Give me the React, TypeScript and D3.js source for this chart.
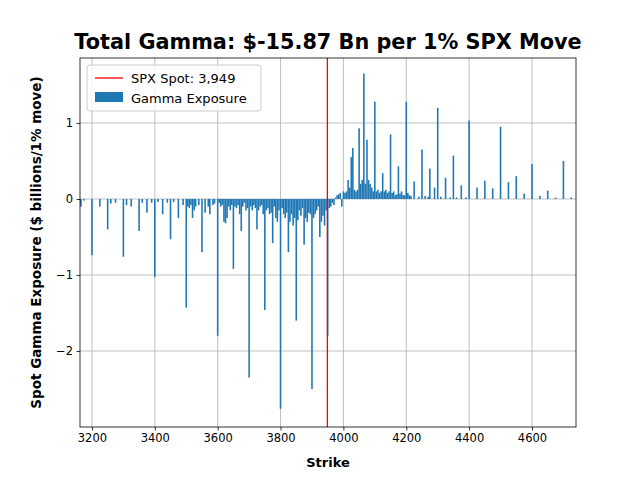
import { useEffect, useRef } from 'react';
import * as d3 from 'd3';

const strikes: number[] = [
  3165, 3175, 3200, 3225, 3250, 3260, 3275, 3300, 3310, 3325, 3350, 3360, 3375, 3390, 3400, 3410, 3425, 3440, 3450, 3460, 3475, 3490, 3500,
  3505, 3510, 3515, 3520, 3525, 3530, 3540, 3550, 3560, 3570, 3575, 3585, 3590,
  ...d3.range(3600, 4200, 5),
  4200, 4205, 4210, 4215, 4225, 4240, 4250, 4260, 4270, 4275, 4290, 4300, 4310, 4325, 4340, 4350, 4360, 4375, 4390, 4400,
  4425, 4450, 4475, 4500, 4525, 4550, 4575, 4600, 4625, 4650, 4675, 4700, 4725,
];

const gamma: number[] = [
  -0.1, -0.02, -0.74, -0.1, -0.4, -0.06, -0.05, -0.76, -0.08, -0.1, -0.42, -0.05, -0.18, -0.05, -1.03, -0.04, -0.2, -0.05, -0.53, -0.04, -0.25, -0.08, -1.43,
  -0.1, -0.12, -0.08, -0.25, -0.15, -0.1, -0.08, -0.7, -0.18, -0.1, -0.2, -0.08, -0.06,
  // 3600 - 3995
  -1.8, -0.05, -0.1, -0.08, -0.3, -0.32, -0.25, -0.1, -0.15, -0.08,
  -0.92, -0.1, -0.12, -0.08, -0.2, -0.42, -0.1, -0.05, -0.15, -0.12,
  -2.35, -0.1, -0.15, -0.08, -0.12, -0.4, -0.15, -0.1, -0.08, -0.2,
  -1.46, -0.15, -0.12, -0.2, -0.18, -0.58, -0.1, -0.25, -0.3, -0.15,
  -2.76, -0.12, -0.2, -0.25, -0.18, -0.7, -0.3, -0.2, -0.35, -0.25,
  -1.6, -0.28, -0.15, -0.22, -0.12, -0.6, -0.25, -0.3, -0.18, -0.2,
  -2.5, -0.25, -0.2, -0.15, -0.1, -0.5, -0.3, -0.22, -0.35, -0.15,
  -1.8, -0.12, -0.1, -0.05, -0.08, 0.02, 0.05, 0.06, 0.08, -0.1,
  // 4000 - 4195
  0.1, 0.08, 0.1, 0.25, 0.15, 0.55, 0.67, 0.12, 0.1, 0.12,
  0.93, 0.2, 0.25, 1.65, 0.2, 0.78, 0.25, 0.2, 0.15, 0.1,
  1.28, 0.1, 0.12, 0.08, 0.1, 0.34, 0.1, 0.12, 0.08, 0.1,
  0.85, 0.08, 0.1, 0.05, 0.06, 0.43, 0.07, 0.1, 0.05, 0.05,
  1.28, 0.08, 0.05, 0.04, 0.23, 0.03, 0.65, 0.04, 0.03, 0.4, 0.15, 1.2, 0.03, 0.28, 0.02, 0.57, 0.02, 0.18, 0.02, 1.03,
  0.15, 0.24, 0.14, 0.95, 0.22, 0.3, 0.07, 0.46, 0.04, 0.11, 0.02, 0.5, 0.02,
];

const spot = 3949;
const xTicks = [3200, 3400, 3600, 3800, 4000, 4200, 4400, 4600];
const yTicks = [-2, -1, 0, 1];

export default function App() {
  const svgRef = useRef<SVGSVGElement>(null);
  const width = 640;
  const height = 480;
  const margin = { top: 58, right: 64, bottom: 53, left: 80 };
  const innerWidth = width - margin.left - margin.right;
  const innerHeight = height - margin.top - margin.bottom;

  useEffect(() => {
    if (!svgRef.current) return;
    const svg = d3.select(svgRef.current);
    svg.selectAll('*').remove();

    const x = d3.scaleLinear().domain([3162, 4740]).range([0, innerWidth]);
    const y = d3.scaleLinear().domain([-3.0, 1.855]).range([innerHeight, 0]);

    const g = svg.append('g').attr('transform', `translate(${margin.left},${margin.top})`);

    // Grid
    g.append('g')
      .selectAll('line')
      .data(xTicks)
      .join('line')
      .attr('x1', d => x(d)).attr('x2', d => x(d))
      .attr('y1', 0).attr('y2', innerHeight)
      .attr('stroke', '#b0b0b0').attr('stroke-width', 0.8);
    g.append('g')
      .selectAll('line')
      .data(yTicks)
      .join('line')
      .attr('y1', d => y(d)).attr('y2', d => y(d))
      .attr('x1', 0).attr('x2', innerWidth)
      .attr('stroke', '#b0b0b0').attr('stroke-width', 0.8);

    // Bars
    const bw = x(3167) - x(3162);
    g.append('g')
      .selectAll('rect')
      .data(strikes.map((s, i) => ({ s, v: gamma[i] })))
      .join('rect')
      .attr('x', d => x(d.s) - bw / 2)
      .attr('width', bw)
      .attr('y', d => y(Math.max(0, d.v)))
      .attr('height', d => Math.abs(y(d.v) - y(0)))
      .attr('fill', '#1f77b4');

    // Spot line
    g.append('line')
      .attr('x1', x(spot)).attr('x2', x(spot))
      .attr('y1', 0).attr('y2', innerHeight)
      .attr('stroke', '#ff0000').attr('stroke-width', 1.3);

    // Axes
    const xa = g.append('g')
      .attr('transform', `translate(0,${innerHeight})`)
      .call(d3.axisBottom(x).tickValues(xTicks).tickSize(3.5).tickPadding(3.5).tickFormat(d3.format('d')));
    const ya = g.append('g')
      .call(d3.axisLeft(y).tickValues(yTicks).tickSize(3.5).tickPadding(3.5).tickFormat(d => `${+d < 0 ? '−' : ''}${Math.abs(+d)}`));
    [xa, ya].forEach(a => {
      a.select('.domain').remove();
      a.selectAll('text').style('font-size', '11.5px').style('font-family', 'DejaVu Sans').attr('fill', '#000');
      a.selectAll('line').attr('stroke', '#000').attr('stroke-width', 0.8);
    });
    g.append('rect')
      .attr('width', innerWidth).attr('height', innerHeight)
      .attr('fill', 'none').attr('stroke', '#000').attr('stroke-width', 0.8);

    // Labels
    svg.append('text')
      .attr('x', margin.left + innerWidth / 2).attr('y', 49)
      .attr('text-anchor', 'middle')
      .style('font-family', 'DejaVu Sans').style('font-size', '20.8px').style('font-weight', 'bold')
      .text('Total Gamma: $-15.87 Bn per 1% SPX Move');
    svg.append('text')
      .attr('x', margin.left + innerWidth / 2).attr('y', 467)
      .attr('text-anchor', 'middle')
      .style('font-family', 'DejaVu Sans').style('font-size', '13px').style('font-weight', 'bold')
      .text('Strike');
    svg.append('text')
      .attr('transform', `translate(41,${margin.top + innerHeight / 2}) rotate(-90)`)
      .attr('text-anchor', 'middle')
      .style('font-family', 'DejaVu Sans').style('font-size', '13.5px').style('font-weight', 'bold')
      .text('Spot Gamma Exposure ($ billions/1% move)');

    // Legend
    const lg = svg.append('g').attr('transform', 'translate(87,65)');
    lg.append('rect')
      .attr('width', 174).attr('height', 46).attr('rx', 3)
      .attr('fill', 'rgba(255,255,255,0.8)').attr('stroke', '#ccc');
    lg.append('line').attr('x1', 8).attr('x2', 36).attr('y1', 13).attr('y2', 13)
      .attr('stroke', '#ff0000').attr('stroke-width', 1.3);
    lg.append('rect').attr('x', 8).attr('y', 27).attr('width', 28).attr('height', 10).attr('fill', '#1f77b4');
    [['SPX Spot: 3,949', 17.5], ['Gamma Exposure', 37.5]].forEach(([t, yy]) => {
      lg.append('text').attr('x', 44).attr('y', yy as number)
        .style('font-family', 'DejaVu Sans').style('font-size', '13px').text(t as string);
    });
  }, []);

  return <svg ref={svgRef} width={width} height={height} style={{ display: 'block', margin: -8 }} />;
}
